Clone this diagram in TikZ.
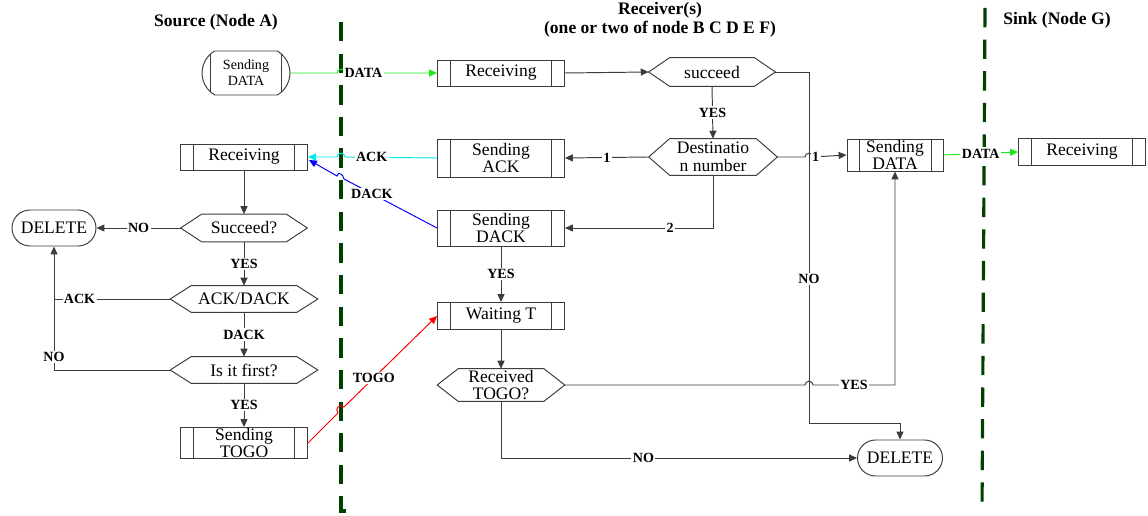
\documentclass[tikz,border=0pt]{standalone}
\usepackage{fontspec}
\setmainfont{Liberation Serif}
\usetikzlibrary{shapes.misc,arrows.meta,calc}
\definecolor{sepgreen}{RGB}{0,64,0}
\definecolor{datagreen}{RGB}{30,230,30}
\definecolor{ackcyan}{RGB}{0,235,235}
\definecolor{dackblue}{RGB}{0,0,255}
\definecolor{togored}{RGB}{255,0,0}
\definecolor{linegray}{RGB}{60,60,60}
\newcommand\hexdraw[2]{\draw[shapeline] (#1.west) -- ([xshift=#2]#1.north west) -- ([xshift=-#2]#1.north east) -- (#1.east) -- ([xshift=-#2]#1.south east) -- ([xshift=#2]#1.south west) -- cycle;}
\begin{document}
\begin{tikzpicture}[x=0.02cm,y=-0.02cm,
  shapeline/.style={draw=linegray, line width=0.55pt},
  nodefont/.style={font=\fontsize{10}{10}\selectfont},
  bars/.style={path picture={\draw[shapeline] ([xshift=#1]path picture bounding box.south west) -- ([xshift=#1]path picture bounding box.north west)
      ([xshift=-#1]path picture bounding box.south east) -- ([xshift=-#1]path picture bounding box.north east);}},
  proc/.style={shapeline, rectangle, inner sep=0pt, minimum width=2.54cm, align=center, nodefont, bars=0.26cm},
  hexnode/.style={rectangle, inner sep=0pt, align=center, nodefont},
  term/.style={shapeline, rounded rectangle, inner sep=0pt, align=center, nodefont},
  title/.style={font=\bfseries\fontsize{10}{11}\selectfont, align=center},
  lbl/.style={font=\bfseries\fontsize{8}{9}\selectfont, fill=white, inner sep=0.8pt, text=black},
  conn/.style={draw=linegray, line width=0.55pt},
  arr/.style={conn, -{Triangle[length=4.5pt,width=4pt]}},
  sep/.style={draw=sepgreen, line width=1.8pt, dash pattern=on 11pt off 7pt},
]
\useasboundingbox (0,0) rectangle (1148,516);
% separators
\draw[sep] (341,22) -- (341,511) -- (351,511);
\draw[sep] (985,8) -- (982,512);

% titles
\node[title] (tA) at (216,22) {Source (Node A)};
\node[title] (tB) at (660,20) {Receiver(s)\\(one or two of node B C D E F)};
\node[title] (tG) at (1057,20) {Sink (Node G)};

% source nodes
\node[term, rounded rectangle arc length=120, minimum width=1.76cm, minimum height=0.88cm, font=\fontsize{8}{9}\selectfont, bars=0.25cm] (sdA) at (246,73) {Sending\\DATA};
\node[proc, minimum height=0.52cm] (recA) at (244,157) {Receiving};
\node[hexnode, minimum width=2.52cm, minimum height=0.54cm] (succA) at (244,228) {Succeed?};
\node[term, minimum width=1.68cm, minimum height=0.72cm] (delA) at (54,228) {DELETE};
\node[hexnode, minimum width=2.94cm, minimum height=0.52cm] (ackdack) at (244,299) {ACK/DACK};
\node[hexnode, minimum width=2.94cm, minimum height=0.52cm] (first) at (244,370) {Is it first?};
\node[proc, minimum height=0.62cm] (togo) at (244,443) {Sending\\TOGO};
\hexdraw{succA}{0.42cm}
\hexdraw{ackdack}{0.42cm}
\hexdraw{first}{0.42cm}

% receiver nodes
\node[proc, minimum height=0.52cm] (recB) at (501,73) {Receiving};
\node[hexnode, minimum width=2.52cm, minimum height=0.56cm] (succB) at (712,72) {succeed};
\node[hexnode, minimum width=2.56cm, minimum height=0.72cm] (dest) at (713,157) {Destinatio\\n number};
\node[proc, minimum height=0.76cm] (sack) at (501,158) {Sending\\ACK};
\node[proc, minimum height=0.72cm] (sdack) at (501,228) {Sending\\DACK};
\node[proc, minimum height=0.54cm] (wait) at (501,316) {Waiting T};
\node[hexnode, minimum width=2.54cm, minimum height=0.64cm] (rtogo) at (501,385) {Received\\TOGO?};
\node[proc, minimum width=1.92cm, minimum height=0.64cm, bars=0.24cm] (sdB) at (895,155) {Sending\\DATA};
\node[term, minimum width=1.70cm, minimum height=0.72cm] (delB) at (900,458) {DELETE};
\hexdraw{succB}{0.42cm}
\hexdraw{dest}{0.42cm}
\hexdraw{rtogo}{0.42cm}

% sink node
\node[proc, minimum height=0.54cm] (recG) at (1082,152) {Receiving};

\coordinate (joinA) at (delA.south |- ackdack.west);

% source flow
\draw[arr] (recA.south) -- (succA.north);
\draw[arr] (succA.west) -- node[lbl]{NO} (delA.east);
\draw[arr] (succA.south) -- node[lbl]{YES} (ackdack.north);
\draw[arr] (ackdack.west) -| node[lbl,pos=0.39]{ACK} (delA.south);
\draw[arr] (ackdack.south) -- node[lbl]{DACK} (first.north);
\draw[conn] (first.west) -| node[lbl,pos=0.59]{NO} (joinA);
\draw[arr] (first.south) -- node[lbl]{YES} (togo.north);

% cross-boundary messages
\draw[conn, draw=datagreen, -{Triangle[length=4.5pt,width=4pt]}] (sdA.east) -- (337,73) .. controls (337,68) and (345,68) .. (345,73) -- node[lbl,pos=0.2]{DATA} (recB.west);
\draw[conn, draw=ackcyan, -{Triangle[length=4.5pt,width=4pt]}] (sack.west) -- node[lbl,pos=0.71]{ACK} (345,157) .. controls (345,152) and (337,152) .. (337,157) -- (recA.east);
\draw[conn, draw=dackblue, -{Triangle[length=4.5pt,width=4pt]}] (sdack.west) -- node[lbl,pos=0.70]{DACK} (344,179) .. controls (343,174) and (338,171) .. (337,176) -- ($(recA.east)+(1,3)$);
\draw[conn, draw=togored, -{Triangle[length=4.5pt,width=4pt]}] (togo.east) -- (338,413) .. controls (334,409) and (340,403) .. (344,407) -- node[lbl,pos=0.32]{TOGO} (wait.west);
\draw[conn, draw=datagreen, -{Triangle[length=4.5pt,width=4pt]}] (sdB.east) -- node[lbl]{DATA} (recG.west);

% receiver flow
\draw[arr] (recB.east) -- (succB.west);
\draw[arr] (succB.south) -- node[lbl]{YES} (dest.north);
\draw[arr] (succB.east) -- (809,72) -- node[lbl,pos=0.59]{NO} (809,423) -| (delB.north);
\draw[arr] (dest.west) -- node[lbl]{1} (sack.east);
\draw[arr] (dest.south) |- node[lbl,pos=0.645]{2} (sdack.east);
\draw[arr] (dest.east) -- (805,157) .. controls (805,152) and (813,152) .. (813,157) -- node[lbl,pos=0.08]{1} (sdB.west);
\draw[arr] (sdack.south) -- node[lbl]{YES} (wait.north);
\draw[arr] (wait.south) -- (rtogo.north);
\draw[arr] (rtogo.east) -- (805,385) .. controls (805,380) and (813,380) .. (813,385) -- node[lbl]{YES} (sdB.south |- rtogo.east) -- (sdB.south);
\draw[arr] (rtogo.south) |- node[lbl,pos=0.70]{NO} (delB.west);
\end{tikzpicture}
\end{document}
